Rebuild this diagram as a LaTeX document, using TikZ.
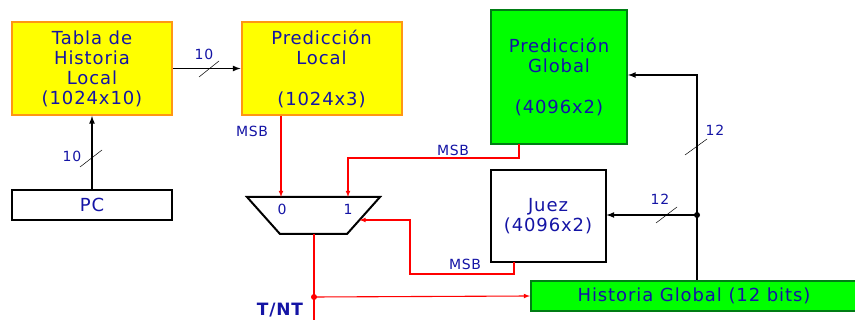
\documentclass[tikz,border=0pt]{standalone}
\usepackage{fontspec}
\setmainfont{DejaVu Sans}[LetterSpace=5]
\usepackage{tikz}
\definecolor{txtblue}{RGB}{20,20,165}
\definecolor{boxyellow}{RGB}{255,255,0}
\definecolor{boxorange}{RGB}{255,150,20}
\definecolor{boxgreen}{RGB}{0,255,0}
\definecolor{edgegreen}{RGB}{0,125,20}

\begin{document}
\begin{tikzpicture}[x=1pt, y=-1pt,
  every node/.style={text=txtblue, inner sep=0pt, align=center,
    font=\fontsize{18}{20}\selectfont},
  ybox/.style={draw=boxorange, line width=2pt, fill=boxyellow},
  gbox/.style={draw=edgegreen, line width=2pt, fill=boxgreen},
  wbox/.style={draw=black, line width=2pt, fill=white},
  wire/.style={draw=black, line width=1.6pt, -latex},
  redwire/.style={draw=red, line width=1.1pt},
  slash/.style={draw=black, line width=0.5pt},
  small/.style={font=\fontsize{14}{16}\selectfont}]
\useasboundingbox (0,0) rectangle (855,320);
% --- tables ---
\node[ybox, minimum width=160, minimum height=93] (tabla) at (92,68.5)
  {Tabla de\\Historia\\Local\\(1024x10)};
\node[ybox, minimum width=160, minimum height=93] (local) at (321.5,68.5)
  {Predicción\\Local\\[21pt](1024x3)};
\node[gbox, minimum width=136, minimum height=134] (global) at (559,77)
  {Predicción\\Global\\[21pt](4096x2)};
\node[wbox, minimum width=160, minimum height=30] (pc) at (92,205) {PC};
\node[wbox, minimum width=115, minimum height=92] (juez) at (548,216)
  {Juez\\(4096x2)};
\node[gbox, minimum width=326, minimum height=30] (hist) at (694,296)
  {Historia Global (12 bits)};
% --- mux ---
\draw[line width=2pt] (247,197) -- (380,197) -- (347,234) -- (280,234) -- cycle;
\coordinate (in0) at (281,197);
\coordinate (in1) at (348,197);
\coordinate (in2) at (359.5,220);
\coordinate (out) at (314,234);
\node[small] (m0) at (282,209) {0};
\node[small] (m1) at (348,209) {1};
% --- black wires ---
\draw[wire] (pc.north) -- (tabla.south);
\draw[slash] (80,167) -- (102,150);
\node[small] (n10a) at (72,156) {10};
\draw[wire] (tabla.east) -- (local.west);
\draw[slash] (199,77) -- (219,61);
\node[small] (n10b) at (204,54) {10};
\coordinate (bustop) at (697,75);
\coordinate (busdot) at (697,215);
\draw[wire] (hist.north -| bustop) -- (bustop) -- (global.east |- bustop);
\draw[slash] (685,155) -- (707,139);
\node[small] (n12a) at (715,130) {12};
\fill (busdot) circle (3pt);
\draw[wire] (busdot) -- (juez.east |- busdot);
\draw[slash] (656,223) -- (677,207);
\node[small] (n12b) at (660,199) {12};
% --- red wires ---
\draw[redwire, -latex] (local.south -| in0) -- (in0);
\node[small] (msba) at (252,131) {MSB};
\coordinate (gmsb) at (519,144);
\draw[redwire, -latex] (gmsb) -- ++(0,14) -| (in1);
\node[small] (msbb) at (453,150) {MSB};
\coordinate (jmsb) at (514,262);
\coordinate (jbend) at (410,274);
\draw[redwire, -latex] (jmsb) |- (jbend) |- (in2);
\node[small] (msbc) at (465,264) {MSB};
\coordinate (tdot) at (314,297);
\coordinate (tend) at (314,320);
\draw[redwire] (out) -- (tend);
\fill[red] (tdot) circle (3pt);
\draw[redwire, -latex] (tdot) -- (hist.west);
\node[font=\bfseries\fontsize{17}{18}\selectfont] (tnt) at (280,310) {T/NT};
\end{tikzpicture}
\end{document}
